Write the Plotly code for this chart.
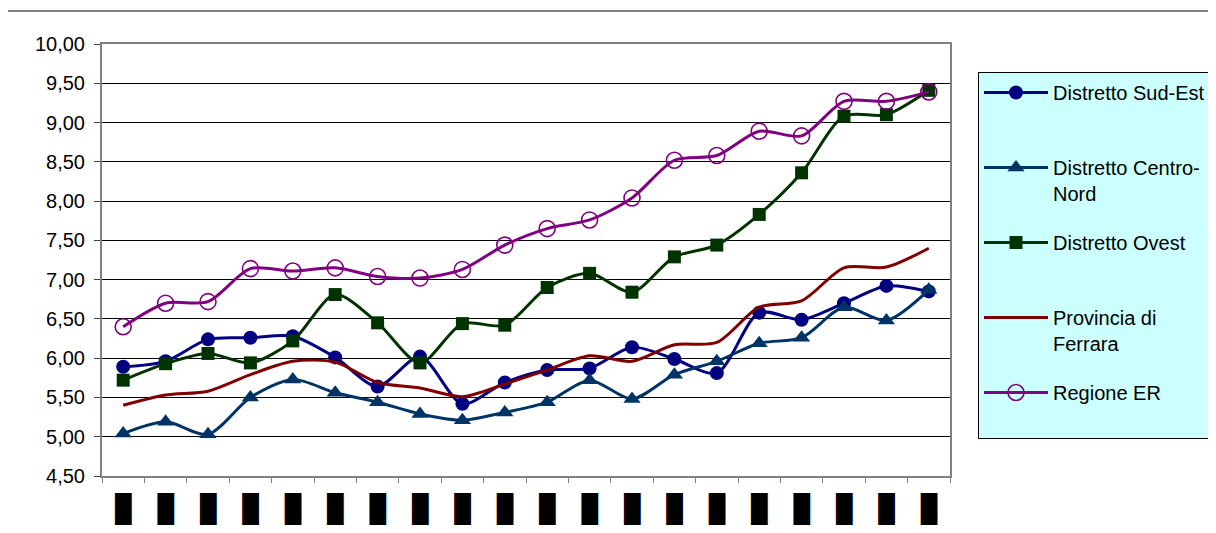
import plotly.graph_objects as go

# ---- data ----
categories = [f"c{i+1}" for i in range(20)]
tick_labels = ["█"] * 20  # labels are blacked-out in the reference

sud_est = [5.89, 5.96, 6.24, 6.26, 6.28, 6.01, 5.64, 6.02, 5.42, 5.69,
           5.85, 5.87, 6.14, 5.99, 5.81, 6.58, 6.49, 6.70, 6.92, 6.85]
centro_nord = [5.04, 5.19, 5.03, 5.50, 5.73, 5.56, 5.44, 5.29, 5.21, 5.31,
               5.44, 5.72, 5.48, 5.79, 5.96, 6.19, 6.26, 6.65, 6.48, 6.87]
ovest = [5.72, 5.93, 6.06, 5.94, 6.22, 6.81, 6.45, 5.94, 6.44, 6.42,
         6.90, 7.08, 6.84, 7.29, 7.44, 7.83, 8.36, 9.08, 9.10, 9.41]
provincia = [5.40, 5.53, 5.58, 5.79, 5.96, 5.95, 5.69, 5.62, 5.51, 5.67,
             5.85, 6.03, 5.96, 6.17, 6.20, 6.65, 6.73, 7.15, 7.16, 7.40]
regione = [6.40, 6.70, 6.72, 7.14, 7.11, 7.15, 7.04, 7.02, 7.13, 7.44,
           7.65, 7.76, 8.04, 8.52, 8.58, 8.89, 8.83, 9.27, 9.27, 9.39]

y_ticks = [4.5 + 0.5 * i for i in range(12)]

FONT = "Arial, 'Liberation Sans', sans-serif"

# the page body adds an 8px margin, so the figure is 8px smaller than the window
W, H = 1208, 525

series = [
    ("Distretto Sud-Est<br> ", sud_est, "#000080", dict(symbol="circle", size=14)),
    ("Distretto Centro-<br>Nord", centro_nord, "#003366", dict(symbol="triangle-up", size=15)),
    ("Distretto Ovest<br> ", ovest, "#003300", dict(symbol="square", size=13)),
    ("Provincia di<br>Ferrara", provincia, "#800000", None),
    ("Regione ER<br> ", regione, "#800080", dict(symbol="circle-open", size=16, line=dict(width=1.6))),
]

fig = go.Figure()
for i, (name, vals, color, mk) in enumerate(series):
    if mk is None:
        fig.add_trace(go.Scatter(
            x=categories, y=vals, name=name, mode="lines",
            line=dict(color=color, width=3, shape="spline", smoothing=0.8),
            legendgroup=f"g{i}",
        ))
    else:
        m = dict(color=color, **mk)
        fig.add_trace(go.Scatter(
            x=categories, y=vals, name=name, mode="lines+markers",
            line=dict(color=color, width=3, shape="spline", smoothing=0.8),
            marker=m, legendgroup=f"g{i}",
        ))

fig.update_layout(
    width=W, height=H,
    margin=dict(l=94, r=266, t=36, b=57),
    paper_bgcolor="white", plot_bgcolor="white",
    separators=",.",
    font=dict(family=FONT, size=20, color="black"),
    showlegend=True,
    legend=dict(
        xref="container", yref="container",
        x=970 / W, y=1 - 64 / H, xanchor="left", yanchor="top",
        bgcolor="#CCFFFF", bordercolor="black", borderwidth=1,
        font=dict(family=FONT, size=20, color="black"),
        traceorder="grouped", tracegroupgap=20, valign="top",
        itemwidth=64, maxheight=440,
    ),
    xaxis=dict(
        type="category", automargin=False, range=[-0.5, 19.5],
        tickmode="array", tickvals=categories, ticktext=tick_labels,
        tickfont=dict(family="DejaVu Sans Mono", size=27, color="black"),
        ticks="outside", ticklen=5, tickcolor="#808080", tickson="boundaries",
        ticklabelstandoff=8,
        showline=True, linecolor="#808080", linewidth=2, mirror=True,
        showgrid=False, zeroline=False,
    ),
    yaxis=dict(
        range=[4.5, 10.0], tickvals=y_ticks, tickformat=".2f", automargin=False,
        ticks="outside", ticklen=6, tickcolor="#404040", ticklabelstandoff=5,
        showline=True, linecolor="#808080", linewidth=2, mirror=True,
        showgrid=True, gridcolor="black", gridwidth=1, zeroline=False,
        tickfont=dict(family=FONT, size=20, color="black"),
    ),
)

# outer chart-area frame
fig.add_shape(type="rect", xref="paper", yref="paper",
              x0=-0.112, y0=-0.3, x1=1.6, y1=1.0764,
              line=dict(color="black", width=1), fillcolor="rgba(0,0,0,0)", layer="below")

fig.write_html("out.html")
